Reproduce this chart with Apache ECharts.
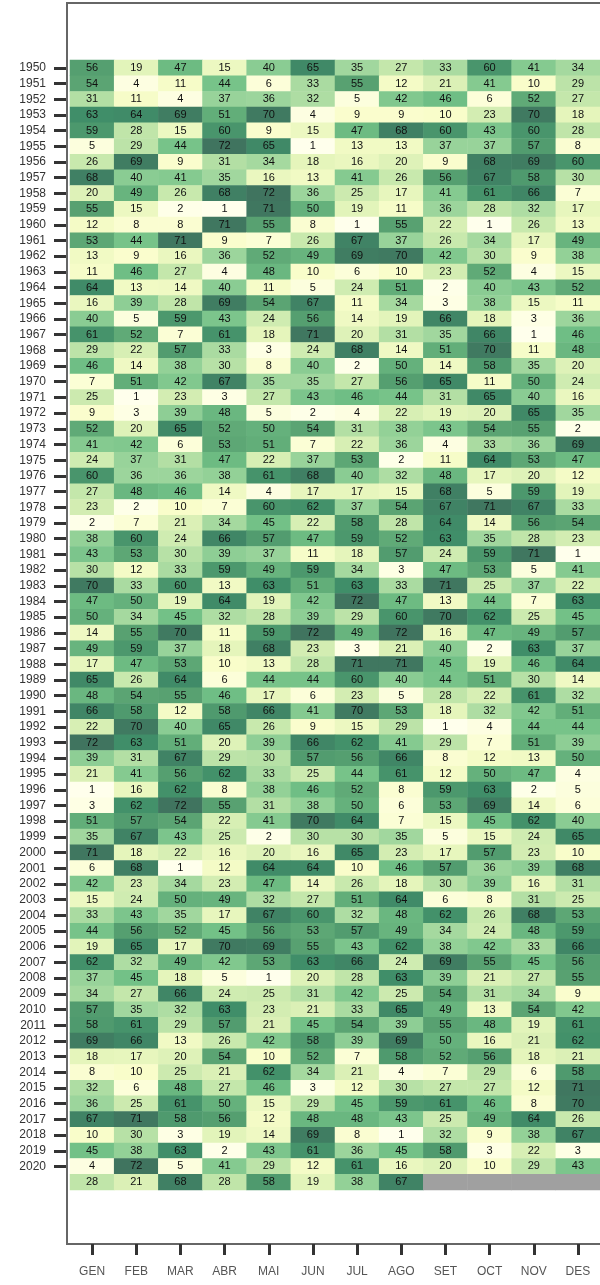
<!DOCTYPE html>
<html>
<head>
<meta charset="utf-8">
<script src="https://cdn.jsdelivr.net/npm/echarts@6/dist/echarts.min.js"></script>
<style>
html,body{margin:0;padding:0;background:#fff;}
#chart{width:600px;height:1285px;}
</style>
</head>
<body>
<div id="chart"></div>
<script>
const months = ['GEN','FEB','MAR','ABR','MAI','JUN','JUL','AGO','SET','OCT','NOV','DES'];
const years = [];
for (let y = 1950; y <= 2021; y++) years.push(String(y));
const labelledYears = 71; // 1950..2020 carry a tick label; the last row has none

// rank values per year (row), month columns GEN..DES; null = no data
const values = [
[56,19,47,15,40,65,35,27,33,60,41,34],
[54,4,11,44,6,33,55,12,21,41,10,29],
[31,11,4,37,36,32,5,42,46,6,52,27],
[63,64,69,51,70,4,9,9,10,23,70,18],
[59,28,15,60,9,15,47,68,60,43,60,28],
[5,29,44,72,65,1,13,13,37,37,57,8],
[26,69,9,31,34,18,16,20,9,68,69,60],
[68,40,41,35,16,13,41,26,56,67,58,30],
[20,49,26,68,72,36,25,17,41,61,66,7],
[55,15,2,1,71,50,19,11,36,28,32,17],
[12,8,8,71,55,8,1,55,22,1,26,13],
[53,44,71,9,7,26,67,37,26,34,17,49],
[13,9,16,36,52,49,69,70,42,30,9,38],
[11,46,27,4,48,10,6,10,23,52,4,15],
[64,13,14,40,11,5,24,51,2,40,43,52],
[16,39,28,69,54,67,11,34,3,38,15,11],
[40,5,59,43,24,56,14,19,66,18,3,36],
[61,52,7,61,18,71,20,31,35,66,1,46],
[29,22,57,33,3,24,68,14,51,70,11,48],
[46,14,38,30,8,40,2,50,14,58,35,20],
[7,51,42,67,35,35,27,56,65,11,50,24],
[25,1,23,3,27,43,46,44,31,65,40,16],
[9,3,39,48,5,2,4,22,19,20,65,35],
[52,20,65,52,50,54,31,38,43,54,55,2],
[41,42,6,53,51,7,22,36,4,33,36,69],
[24,37,31,47,22,37,53,2,11,64,53,47],
[60,36,36,38,61,68,40,32,48,17,20,12],
[27,48,46,14,4,17,17,15,68,5,59,19],
[23,2,10,7,60,62,37,54,67,71,67,33],
[2,7,21,34,45,22,58,28,64,14,56,54],
[38,60,24,66,57,47,59,52,63,35,28,23],
[43,53,30,39,37,11,18,57,24,59,71,1],
[30,12,33,59,49,59,34,3,47,53,5,41],
[70,33,60,13,63,51,63,33,71,25,37,22],
[47,50,19,64,19,42,72,47,13,44,7,63],
[50,34,45,32,28,39,29,60,70,62,25,45],
[14,55,70,11,59,72,49,72,16,47,49,57],
[49,59,37,18,68,23,3,21,40,2,63,37],
[17,47,53,10,13,28,71,71,45,19,46,64],
[65,26,64,6,44,44,60,40,44,51,30,14],
[48,54,55,46,17,6,23,5,28,22,61,32],
[66,58,12,58,66,41,70,53,18,32,42,51],
[22,70,40,65,26,9,15,29,1,4,44,44],
[72,63,51,20,39,66,62,41,29,7,51,39],
[39,31,67,29,30,57,56,66,8,12,13,50],
[21,41,56,62,33,25,44,61,12,50,47,4],
[1,16,62,8,38,46,52,8,59,63,2,5],
[3,62,72,55,31,38,50,6,53,69,14,6],
[51,57,54,22,41,70,64,7,15,45,62,40],
[35,67,43,25,2,30,30,35,5,15,24,65],
[71,18,22,16,20,16,65,23,17,57,23,10],
[6,68,1,12,64,64,10,46,57,36,39,68],
[42,23,34,23,47,14,26,18,30,39,16,31],
[15,24,50,49,32,27,51,64,6,8,31,25],
[33,43,35,17,67,60,32,48,62,26,68,53],
[44,56,52,45,56,53,57,49,34,24,48,59],
[19,65,17,70,69,55,43,62,38,42,33,66],
[62,32,49,42,53,63,66,24,69,55,45,56],
[37,45,18,5,1,20,28,63,39,21,27,55],
[34,27,66,24,25,31,42,25,54,31,34,9],
[57,35,32,63,23,21,33,65,49,13,54,42],
[58,61,29,57,21,45,54,39,55,48,19,61],
[69,66,13,26,42,58,39,69,50,16,21,62],
[18,17,20,54,10,52,7,58,52,56,18,21],
[8,10,25,21,62,34,21,4,7,29,6,58],
[32,6,48,27,46,3,12,30,27,27,12,71],
[36,25,61,50,15,29,45,59,61,46,8,70],
[67,71,58,56,12,48,48,43,25,49,64,26],
[10,30,3,19,14,69,8,1,32,9,38,67],
[45,38,63,2,43,61,36,45,58,3,22,3],
[4,72,5,41,29,12,61,16,20,10,29,43],
[28,21,68,28,58,19,38,67,null,null,null,null]
];

const cells = [], missing = [];
values.forEach((row, i) => row.forEach((v, j) => {
  if (v === null) missing.push([j, i, 0]); else cells.push([j, i, v]);
}));

const chart = echarts.init(document.getElementById('chart'), null, {renderer: 'canvas'});
chart.setOption({
  backgroundColor: '#ffffff',
  animation: false,
  textStyle: {fontFamily: 'Liberation Sans, Arial, sans-serif'},
  grid: {left: 70, right: -11, top: 60, bottom: 95, containLabel: false},
  xAxis: {
    type: 'category', data: months, position: 'bottom', offset: 54,
    axisLine: {show: true, lineStyle: {color: 'rgba(0,0,0,0)', width: 0}},
    axisTick: {show: true, alignWithLabel: true, length: 11, lineStyle: {color: '#333', width: 3}},
    axisLabel: {color: '#555', fontSize: 12, margin: 22},
    splitLine: {show: false}, splitArea: {show: false}
  },
  yAxis: {
    type: 'category', data: years, inverse: true, offset: 4,
    axisLine: {show: true, lineStyle: {color: 'rgba(0,0,0,0)', width: 0}},
    axisTick: {show: true, alignWithLabel: true, length: 12, lineStyle: {color: '#333', width: 3},
      interval: (i) => i < labelledYears},
    axisLabel: {color: '#333', fontSize: 12, margin: 20, interval: (i) => i < labelledYears},
    splitLine: {show: false}, splitArea: {show: false}
  },
  visualMap: {
    show: false, type: 'continuous', min: 1, max: 72, dimension: 2, seriesIndex: 0,
    inRange: {color: ['#ffffec','#f9fdca','#e3f4ba','#c2e6aa','#9ad49b','#71c086','#5aa372','#408e69','#40745f']}
  },
  graphic: [{
    type: 'rect', z: -1,
    shape: {x: 67, y: 3, width: 700, height: 1241},
    style: {fill: 'none', stroke: '#666', lineWidth: 2}
  }],
  series: [{
    type: 'heatmap', data: cells,
    label: {show: true, color: '#111', fontSize: 11, formatter: (p) => String(p.value[2])},
    itemStyle: {borderWidth: 0},
    emphasis: {disabled: true}
  }, {
    type: 'heatmap', data: missing,
    label: {show: false},
    itemStyle: {color: '#a0a0a0', borderWidth: 0},
    emphasis: {disabled: true}
  }]
});
</script>
</body>
</html>
